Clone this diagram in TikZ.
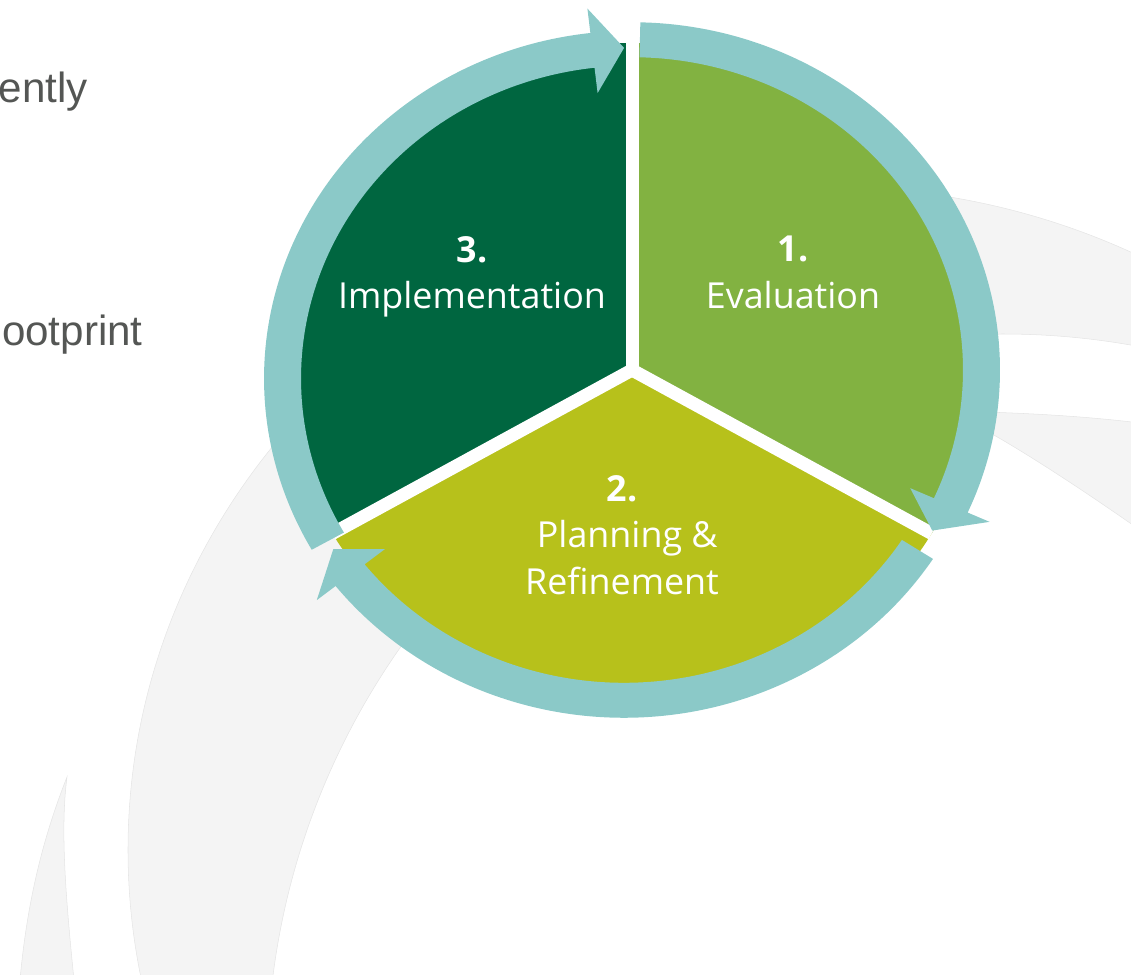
\documentclass[tikz,border=0pt]{standalone}
\usepackage{fontspec}
\newfontfamily\labelfont{Open Sans}
\newfontfamily\slidefont{Liberation Sans}

\definecolor{ring_teal}{RGB}{139,201,200}
\definecolor{eval_green}{RGB}{130,178,65}
\definecolor{plan_green}{RGB}{183,193,27}
\definecolor{impl_green}{RGB}{0,102,64}
\definecolor{swoosh_gray}{RGB}{244,244,244}
\definecolor{slide_gray}{RGB}{84,86,84}

\begin{document}
\begin{tikzpicture}[x=0.02cm, y=-0.02cm,
swoosh/.style={fill=swoosh_gray, draw=black!10, line width=0.3pt},
gap_line/.style={draw=white, line width=0.26cm},
ring_arrow/.style={fill=ring_teal},
step_text/.style={text=white, font=\labelfont\fontsize{20.4}{26.6}\selectfont, align=center, anchor=north},
slide_text/.style={text=slide_gray, font=\slidefont\fontsize{24}{28}\selectfont, anchor=base east, inner sep=0pt}
]
\useasboundingbox (0,0) rectangle (1131,974);

% background swooshes
\begin{scope}
\clip (0,0) rectangle (1131,974);
\path[swoosh, even odd rule] (828,850) ellipse[x radius=700, y radius=663] (1003,1070) circle[radius=736];
\path[swoosh] (67,777) .. controls (48,825) and (28,890) .. (20,980) -- (74,980) .. controls (66,900) and (60,830) .. (67,777) -- cycle;
\path[swoosh] (985,412) .. controls (1050,414) and (1100,418) .. (1140,423) -- (1140,530) .. controls (1090,495) and (1030,455) .. (985,430) -- cycle;
\end{scope}

% cut-off slide text
\node[slide_text] (ently_text) at (88,102) {ently};
\node[slide_text] (footprint_text) at (143,345) {ootprint};

% segments, arcs
\begin{scope}[shift={(632,370)}, yscale=-0.945]
\fill[eval_green] (0,0) -- (-30:346) arc[start angle=-30, end angle=90, radius=346] -- cycle;
\fill[impl_green] (0,0) -- (90:346) arc[start angle=90, end angle=210, radius=346] -- cycle;
\fill[plan_green] (0,0) -- (210:346) arc[start angle=210, end angle=330, radius=346] -- cycle;

\draw[gap_line] (0,0) -- (90:346);
\draw[gap_line] (0,0) -- (-30:346);
\draw[gap_line] (0,0) -- (210:346);
\fill[white] (0,0) circle[radius=7];

% 1 -> 2
\fill[ring_arrow] (88.7:368) arc[start angle=88.7, end angle=-24.2, radius=368] -- (-24.2:392) -- (-29.5:345) -- (-24.2:305) -- (-24.2:331) arc[start angle=-24.2, end angle=88.7, radius=331] -- cycle;
% 2 -> 3
\begin{scope}[shift={(-8,0)}]
\fill[ring_arrow] (-32.9:368) arc[start angle=-32.9, end angle=-141.6, radius=368] -- (-141.6:392) -- (-146.9:347) -- (-141.6:305) -- (-141.6:331) arc[start angle=-141.6, end angle=-32.9, radius=331] -- cycle;
\end{scope}
% 3 -> 1
\begin{scope}[shift={(0,-9)}]
\fill[ring_arrow] (209.5:368) arc[start angle=209.5, end angle=96.5, radius=368] -- (96.5:394) -- (91.3:350) -- (96.5:304) -- (96.5:331) arc[start angle=96.5, end angle=209.5, radius=331] -- cycle;
\end{scope}
\end{scope}

% step labels
\node[step_text] (eval_text) at (793,230) {\textbf{1.}\\Evaluation};
\node[step_text] (plan_text) at (622,469) {\textbf{2.}\\\hspace*{6pt}Planning \&\\Refinement};
\node[step_text] (impl_text) at (472,230) {\textbf{3.}\\Implementation};

\end{tikzpicture}
\end{document}
